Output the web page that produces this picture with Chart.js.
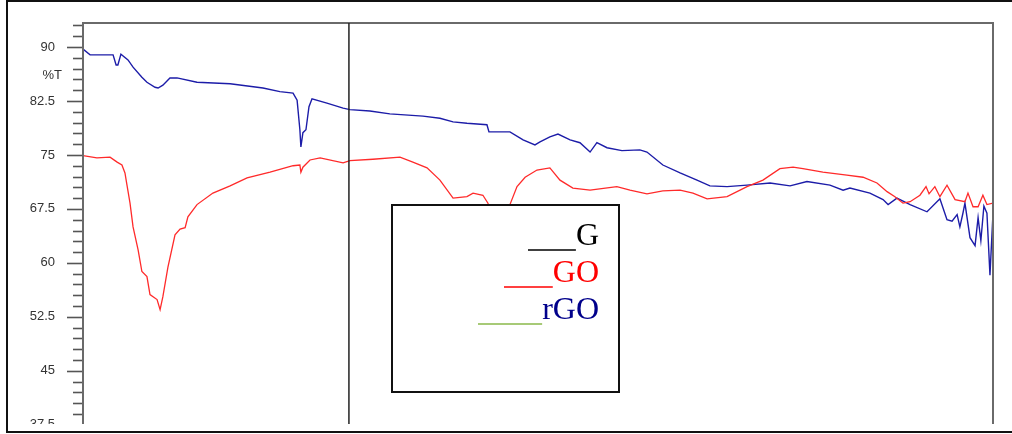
<!DOCTYPE html>
<html>
<head>
<meta charset="utf-8">
<script src="https://cdn.jsdelivr.net/npm/chart.js@4.4.1/dist/chart.umd.min.js"></script>
<style>
html, body { margin: 0; padding: 0; background: #fff; overflow: hidden; }
#wrap { position: relative; width: 1012px; height: 434px; overflow: hidden; }
</style>
</head>
<body>
<div id="wrap"><canvas id="ftirChart" width="1012" height="480"></canvas></div>
<script>
// FTIR spectra, wavenumber (cm-1) vs %T
var rgoWavenumber = [4000, 3972, 3881, 3869, 3862, 3850, 3822, 3802, 3767, 3747, 3715, 3703, 3684, 3656, 3628, 3549, 3418, 3288, 3221, 3169, 3153, 3142, 3138, 3130, 3118, 3106, 3094, 3035, 2971, 2944, 2865, 2786, 2655, 2588, 2536, 2481, 2402, 2394, 2311, 2259, 2212, 2192, 2153, 2121, 2073, 2034, 1994, 1967, 1927, 1868, 1797, 1769, 1706, 1638, 1571, 1520, 1452, 1373, 1282, 1203, 1136, 1045, 993, 966, 887, 835, 815, 780, 728, 661, 610, 582, 562, 542, 531, 519, 511, 491, 471, 459, 448, 436, 424, 412, 400];
var rgoTransmittance = [89.7, 88.9, 88.9, 87.5, 87.5, 89.0, 88.2, 87.2, 85.8, 85.1, 84.4, 84.3, 84.7, 85.7, 85.7, 85.1, 84.9, 84.3, 83.8, 83.6, 82.6, 78.5, 76.1, 78.1, 78.5, 81.7, 82.8, 82.2, 81.5, 81.3, 81.1, 80.7, 80.4, 80.1, 79.6, 79.4, 79.2, 78.2, 78.2, 77.1, 76.4, 76.8, 77.5, 77.9, 77.1, 76.7, 75.4, 76.7, 76.0, 75.6, 75.7, 75.4, 73.6, 72.5, 71.5, 70.7, 70.6, 70.8, 71.1, 70.7, 71.3, 70.8, 70.1, 70.4, 69.7, 68.8, 68.1, 69.0, 68.1, 67.1, 68.9, 66.0, 65.8, 66.7, 65.0, 66.9, 68.3, 63.5, 62.4, 66.3, 63.1, 67.9, 66.9, 58.3, 66.9];

var goWavenumber = [4000, 3945, 3893, 3865, 3846, 3834, 3826, 3814, 3802, 3782, 3767, 3747, 3735, 3707, 3695, 3684, 3664, 3636, 3616, 3596, 3585, 3549, 3486, 3418, 3351, 3260, 3169, 3142, 3138, 3130, 3102, 3062, 2971, 2944, 2853, 2746, 2695, 2639, 2588, 2536, 2481, 2457, 2418, 2398, 2370, 2338, 2311, 2283, 2251, 2204, 2153, 2113, 2062, 1994, 1888, 1836, 1769, 1706, 1638, 1587, 1531, 1452, 1373, 1310, 1243, 1191, 1152, 1073, 978, 914, 859, 819, 788, 756, 728, 689, 665, 653, 630, 610, 582, 550, 511, 499, 479, 459, 440, 424, 400];
var goTransmittance = [74.9, 74.6, 74.7, 74.0, 73.6, 72.5, 70.8, 68.3, 65.0, 61.8, 58.8, 58.1, 55.6, 54.9, 53.5, 55.3, 59.4, 63.9, 64.7, 64.9, 66.4, 68.1, 69.7, 70.7, 71.8, 72.6, 73.5, 73.6, 72.6, 73.3, 74.3, 74.6, 73.9, 74.2, 74.4, 74.7, 74.0, 73.2, 71.5, 69.0, 69.2, 69.7, 69.4, 68.3, 64.6, 64.6, 68.1, 70.6, 71.9, 72.9, 73.2, 71.5, 70.4, 70.1, 70.6, 70.1, 69.6, 70.0, 70.1, 69.7, 68.9, 69.2, 70.6, 71.5, 73.1, 73.3, 73.1, 72.6, 72.2, 71.9, 71.1, 69.9, 69.2, 68.3, 68.5, 69.4, 70.6, 69.6, 70.6, 69.2, 70.8, 68.8, 68.5, 69.7, 67.8, 67.8, 69.4, 68.1, 68.3];

var legendLabels = ['G', 'GO', 'rGO'];
var yTickStep = 1.5;
var yLabelStep = 7.5;
var markerWavenumber = 2948;

function toPoints(xs, ys) {
    return xs.map(function (x, i) { return { x: x, y: ys[i] }; });
}

var frameAndLegend = {
    id: 'frameAndLegend',
    afterDraw: function (chart) {
        var ctx = chart.ctx;
        var area = chart.chartArea;
        var yScale = chart.scales.y;
        var xScale = chart.scales.x;
        var cutY = 424;

        ctx.save();
        // the original picture is cut off below the plot
        ctx.fillStyle = '#fff';
        ctx.fillRect(0, cutY, chart.width, chart.height - cutY);

        // y ticks, long ones at labelled values
        ctx.strokeStyle = '#555';
        ctx.lineWidth = 1.6;
        yScale.ticks.forEach(function (t) {
            var y = Math.round(yScale.getPixelForValue(t.value)) + 0.5;
            if (y < area.top - 1 || y > cutY) return;
            var r = t.value / yLabelStep;
            var len = Math.abs(r - Math.round(r)) < 1e-6 ? 16 : 10;
            ctx.beginPath();
            ctx.moveTo(area.left - len, y);
            ctx.lineTo(area.left, y);
            ctx.stroke();
        });

        // plot frame
        ctx.strokeStyle = '#6a6a6a';
        ctx.lineWidth = 2;
        ctx.beginPath();
        ctx.moveTo(area.left, cutY);
        ctx.lineTo(area.left, area.top);
        ctx.lineTo(area.right, area.top);
        ctx.lineTo(area.right, cutY);
        ctx.stroke();

        // vertical marker
        var mx = xScale.getPixelForValue(markerWavenumber);
        ctx.strokeStyle = '#222';
        ctx.lineWidth = 1.5;
        ctx.beginPath();
        ctx.moveTo(mx, area.top);
        ctx.lineTo(mx, cutY);
        ctx.stroke();

        // axis title
        ctx.fillStyle = '#333';
        ctx.font = '13px "Liberation Sans", Arial, sans-serif';
        ctx.textAlign = 'right';
        ctx.textBaseline = 'middle';
        ctx.fillText('%T', 62, 75);

        // legend box
        ctx.fillStyle = '#fff';
        ctx.fillRect(392, 205, 227, 187);
        ctx.strokeStyle = '#111';
        ctx.lineWidth = 2;
        ctx.strokeRect(392, 205, 227, 187);

        var rows = [
            { text: legendLabels[0], color: '#000', line: '#000', y: 245, x0: 528 },
            { text: legendLabels[1], color: '#ff0000', line: '#ff0000', y: 282, x0: 504 },
            { text: legendLabels[2], color: '#00008b', line: '#8ab84a', y: 319, x0: 478 }
        ];
        ctx.font = '32px "Liberation Serif", "Times New Roman", serif';
        ctx.textAlign = 'right';
        ctx.textBaseline = 'alphabetic';
        rows.forEach(function (r) {
            var w = ctx.measureText(r.text).width;
            ctx.fillStyle = r.color;
            ctx.fillText(r.text, 599, r.y);
            ctx.strokeStyle = r.line;
            ctx.lineWidth = 1.5;
            ctx.beginPath();
            ctx.moveTo(r.x0, r.y + 5);
            ctx.lineTo(599 - w, r.y + 5);
            ctx.stroke();
        });

        // outer border of the figure
        ctx.strokeStyle = '#111';
        ctx.lineWidth = 2;
        ctx.beginPath();
        ctx.moveTo(1012, 1);
        ctx.lineTo(7, 1);
        ctx.lineTo(7, 432);
        ctx.lineTo(1012, 432);
        ctx.stroke();
        ctx.restore();
    }
};

var ctx = document.getElementById('ftirChart').getContext('2d');
new Chart(ctx, {
    type: 'line',
    data: {
        datasets: [
            {
                label: legendLabels[1],
                data: toPoints(goWavenumber, goTransmittance),
                borderColor: '#ff2a2a',
                borderWidth: 1.3,
                pointRadius: 0,
                tension: 0
            },
            {
                label: legendLabels[2],
                data: toPoints(rgoWavenumber, rgoTransmittance),
                borderColor: '#1c1ca8',
                borderWidth: 1.4,
                pointRadius: 0,
                tension: 0
            }
        ]
    },
    options: {
        responsive: false,
        animation: false,
        events: [],
        layout: { padding: { left: 0, top: 23, right: 19, bottom: 12 } },
        scales: {
            x: {
                type: 'linear',
                reverse: true,
                min: 400,
                max: 4000,
                display: false
            },
            y: {
                min: 31.5,
                max: 93.333,
                grid: { display: false },
                border: { display: false },
                afterFit: function (s) {
                    s.width = 83;
                    s.paddingTop = 0;
                    s.paddingBottom = 0;
                },
                ticks: {
                    stepSize: yTickStep,
                    includeBounds: false,
                    autoSkip: false,
                    padding: 20,
                    color: '#333',
                    font: { family: '"Liberation Sans", Arial, sans-serif', size: 13 },
                    callback: function (v) {
                        var r = v / yLabelStep;
                        return Math.abs(r - Math.round(r)) < 1e-6 ? String(Math.round(v * 10) / 10) : '';
                    }
                }
            }
        },
        plugins: {
            legend: { display: false },
            tooltip: { enabled: false }
        }
    },
    plugins: [frameAndLegend]
});
</script>
</body>
</html>
